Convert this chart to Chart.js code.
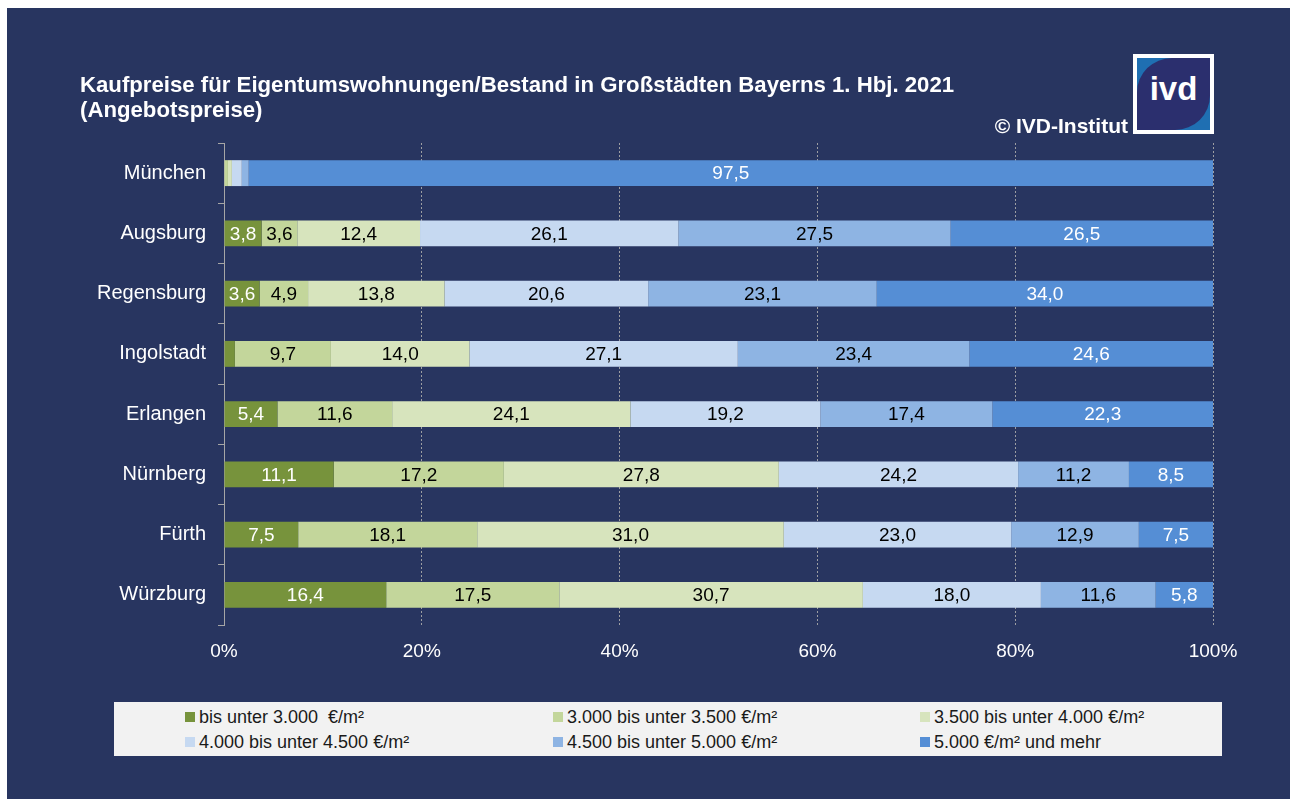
<!DOCTYPE html>
<html>
<head>
<meta charset="utf-8">
<script src="https://cdn.jsdelivr.net/npm/chart.js@4.4.1/dist/chart.umd.min.js"></script>
<style>
  body { margin: 0; background: #fff; }
  #wrap { position: relative; width: 1290px; height: 799px; overflow: hidden; font-family: "Liberation Sans", Arial, sans-serif; }
  #bg { position: absolute; left: 7px; top: 8px; right: 0; bottom: 0; background: #283560; }
  #chart { position: absolute; left: 0; top: 0; }
  .title { position: absolute; left: 80px; top: 72px; color: #fff; font-weight: bold; font-size: 22.2px; line-height: 25px; }
  .copy { position: absolute; right: 162px; top: 114px; color: #fff; font-weight: bold; font-size: 21px; line-height: 24px; }
  .logo { position: absolute; left: 1133px; top: 54px; width: 73px; height: 72px; padding: 4px; background: #fff; }
  .logo .in { width: 100%; height: 100%; background: #1f6fb2; position: relative; }
  .logo .sh { position: absolute; inset: 0; background: #2b2f6e; border-radius: 48% 0 48% 0; }
  .logo .tx { position: absolute; inset: 0; color: #fff; font-weight: bold; font-size: 33px; text-align: center; line-height: 62px; font-family: "Liberation Sans", Arial, sans-serif; }
  .legend { position: absolute; left: 114px; top: 702px; width: 1108px; height: 54px; background: #f2f2f2; }
  .item { position: absolute; font-size: 18px; color: #1a1a1a; white-space: pre; line-height: 20px; }
  .item i { position: absolute; left: -14px; top: 5px; width: 10px; height: 10px; }
</style>
</head>
<body>
<div id="wrap">
  <div id="bg"></div>
  <canvas id="chart" width="1290" height="799"></canvas>
  <div class="title">Kaufpreise für Eigentumswohnungen/Bestand in Großstädten Bayerns 1. Hbj. 2021<br>(Angebotspreise)</div>
  <div class="copy">© IVD-Institut</div>
  <div class="logo"><div class="in"><div class="sh"></div><div class="tx">ivd</div></div></div>
  <div class="legend" id="legend"></div>
</div>
<script>
const cities = ['München', 'Augsburg', 'Regensburg', 'Ingolstadt', 'Erlangen', 'Nürnberg', 'Fürth', 'Würzburg'];

const seriesNames = [
  'bis unter 3.000  €/m²',
  '3.000 bis unter 3.500 €/m²',
  '3.500 bis unter 4.000 €/m²',
  '4.000 bis unter 4.500 €/m²',
  '4.500 bis unter 5.000 €/m²',
  '5.000 €/m² und mehr'
];

const under3000 = [0, 3.8, 3.6, 1.1, 5.4, 11.1, 7.5, 16.4];
const from3000 = [0.4, 3.6, 4.9, 9.7, 11.6, 17.2, 18.1, 17.5];
const from3500 = [0.4, 12.4, 13.8, 14.0, 24.1, 27.8, 31.0, 30.7];
const from4000 = [1.0, 26.1, 20.6, 27.1, 19.2, 24.2, 23.0, 18.0];
const from4500 = [0.7, 27.5, 23.1, 23.4, 17.4, 11.2, 12.9, 11.6];
const over5000 = [97.5, 26.5, 34.0, 24.6, 22.3, 8.5, 7.5, 5.8];

const xTicks = [0, 20, 40, 60, 80, 100];

const colors = ['#77933c', '#c3d69b', '#d7e4bd', '#c6d9f1', '#8eb4e3', '#558ed5'];
const labelColors = ['#fff', '#000', '#000', '#000', '#000', '#fff'];

const allSeries = [under3000, from3000, from3500, from4000, from4500, over5000];
// 100% stacked: scale each row to its total
const totals = cities.map((c, j) => allSeries.reduce((s, arr) => s + arr[j], 0));

const segLabels = {
  id: 'segLabels',
  afterDatasetsDraw(chart) {
    const ctx = chart.ctx;
    ctx.save();
    ctx.font = '19px "Liberation Sans", Arial, sans-serif';
    ctx.textAlign = 'center';
    ctx.textBaseline = 'middle';
    chart.data.datasets.forEach((ds, i) => {
      chart.getDatasetMeta(i).data.forEach((bar, j) => {
        const v = allSeries[i][j];
        if (v < 2) return;
        ctx.fillStyle = labelColors[i];
        ctx.fillText(v.toFixed(1).replace('.', ','), (bar.x + bar.base) / 2, bar.y + 1);
      });
    });
    ctx.restore();
  }
};

new Chart(document.getElementById('chart').getContext('2d'), {
  type: 'bar',
  data: {
    labels: cities,
    datasets: allSeries.map((arr, i) => ({
      label: seriesNames[i],
      data: arr.map((v, j) => v / totals[j] * 100),
      backgroundColor: colors[i],
      borderWidth: 0,
      barPercentage: 0.43,
      categoryPercentage: 1
    }))
  },
  options: {
    indexAxis: 'y',
    responsive: false,
    animation: false,
    devicePixelRatio: 1,
    layout: { padding: { left: 0, top: 143, right: 77, bottom: 134 } },
    plugins: { legend: { display: false }, tooltip: { enabled: false } },
    scales: {
      x: {
        stacked: true,
        min: 0,
        max: 100,
        afterBuildTicks: s => { s.ticks = xTicks.map(v => ({ value: v })); },
        afterFit: s => { s.height = 40; },
        ticks: {
          color: '#fff',
          font: { size: 19, family: '"Liberation Sans", Arial, sans-serif' },
          padding: 15,
          callback: v => v + '%'
        },
        grid: {
          drawTicks: false,
          color: ctx => ctx.index === 0 ? 'rgba(0,0,0,0)' : 'rgba(170,170,170,0.9)',
          lineWidth: 1
        },
        border: { display: false, dash: [2, 2] }
      },
      y: {
        stacked: true,
        afterFit: s => { s.width = 224; },
        ticks: {
          color: '#fff',
          font: { size: 20, family: '"Liberation Sans", Arial, sans-serif' },
          padding: 12
        },
        grid: {
          offset: true,
          drawOnChartArea: false,
          drawTicks: true,
          tickLength: 6,
          color: '#a6a6a6'
        },
        border: { display: true, color: '#a6a6a6', width: 1 }
      }
    }
  },
  plugins: [segLabels]
});

// legend built from the series
const legend = document.getElementById('legend');
const colX = [199, 567, 934];
const rowY = [707, 732];
seriesNames.forEach((name, i) => {
  const el = document.createElement('div');
  el.className = 'item';
  el.style.left = (colX[i % 3] - 114) + 'px';
  el.style.top = (rowY[Math.floor(i / 3)] - 702) + 'px';
  el.innerHTML = '<i style="background:' + colors[i] + '"></i>' + name;
  legend.appendChild(el);
});
</script>
</body>
</html>
